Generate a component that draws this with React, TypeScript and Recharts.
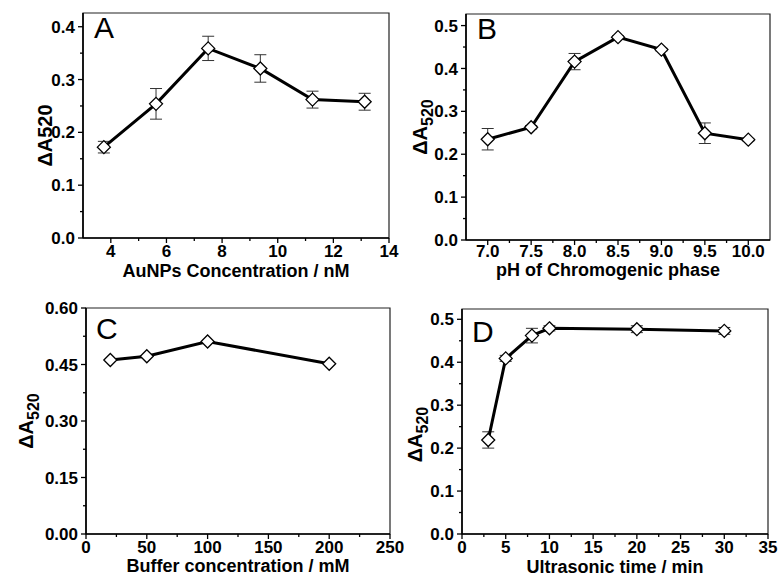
import React from 'react';
import { ComposedChart, Line, XAxis, YAxis, ErrorBar, ReferenceArea } from 'recharts';

// ---------- Panel A ----------
const aX = [3.75, 5.625, 7.5, 9.375, 11.25, 13.125];
const aY = [0.172, 0.254, 0.359, 0.321, 0.262, 0.258];
const aErr = [0.011, 0.029, 0.023, 0.026, 0.016, 0.016];
const aXMajor = [4, 6, 8, 10, 12, 14];
const aXMinor = [5, 7, 9, 11, 13];
const aYMajor = [0, 0.1, 0.2, 0.3, 0.4];
const aYMinor = [0.05, 0.15, 0.25, 0.35];

// ---------- Panel B ----------
const bX = [7.0, 7.5, 8.0, 8.5, 9.0, 9.5, 10.0];
const bY = [0.235, 0.263, 0.416, 0.473, 0.444, 0.249, 0.234];
const bErr = [0.025, 0.004, 0.019, 0.003, 0.003, 0.024, 0.003];
const bXMajor = [7.0, 7.5, 8.0, 8.5, 9.0, 9.5, 10.0];
const bXMinor = [7.25, 7.75, 8.25, 8.75, 9.25, 9.75];
const bYMajor = [0, 0.1, 0.2, 0.3, 0.4, 0.5];
const bYMinor = [0.05, 0.15, 0.25, 0.35, 0.45];

// ---------- Panel C ----------
const cX = [20, 50, 100, 200];
const cY = [0.462, 0.472, 0.511, 0.452];
const cErr = [0, 0, 0, 0];
const cXMajor = [0, 50, 100, 150, 200, 250];
const cXMinor = [25, 75, 125, 175, 225];
const cYMajor = [0, 0.15, 0.3, 0.45, 0.6];
const cYMinor = [0.075, 0.225, 0.375, 0.525];

// ---------- Panel D ----------
const dX = [3, 5, 8, 10, 20, 30];
const dY = [0.219, 0.409, 0.462, 0.479, 0.477, 0.473];
const dErr = [0.019, 0.007, 0.017, 0.006, 0.008, 0.008];
const dXMajor = [0, 5, 10, 15, 20, 25, 30, 35];
const dXMinor = [2.5, 7.5, 12.5, 17.5, 22.5, 27.5, 32.5];
const dYMajor = [0, 0.1, 0.2, 0.3, 0.4, 0.5];
const dYMinor = [0.05, 0.15, 0.25, 0.35, 0.45];

const FONT = '"Liberation Sans", Arial, Helvetica, sans-serif';

const build = (xs: number[], ys: number[], es: number[]) =>
  xs.map((x, i) => ({ x, y: ys[i], e: es[i] }));

const isIn = (arr: number[], v: number) => arr.some((m) => Math.abs(m - v) < 1e-9);

const Diamond = (props: any) => {
  const { cx, cy, index } = props;
  if (cx == null || cy == null) return <g key={`d-${index}`} />;
  const r = 6.5;
  return (
    <polygon
      key={`d-${index}`}
      points={`${cx},${cy - r} ${cx + r},${cy} ${cx},${cy + r} ${cx - r},${cy}`}
      fill="#fff"
      stroke="#000"
      strokeWidth={1.3}
    />
  );
};

type PanelCfg = {
  left: number;
  top: number;
  width: number;
  height: number;
  mTop: number;
  mRight: number;
  yAxisWidth: number;
  xAxisHeight: number;
  data: { x: number; y: number; e: number }[];
  xDomain: [number, number];
  yDomain: [number, number];
  xMajor: number[];
  xMinor: number[];
  yMajor: number[];
  yMinor: number[];
  xFmt: (v: number) => string;
  yFmt: (v: number) => string;
  xTickDy: number;
  xTitle: string;
  xTitleDx: number;
  xTitleDy: number;
  yTitleMain: string;
  yTitleSub: string;
  subscript: boolean;
  yTitleDx: number;
  yTitleDy: number;
  letter: string;
  letterX: number;
  letterY: number;
  showErr: boolean;
};

const Panel = (c: PanelCfg) => {
  const xTicks = [...c.xMajor, ...c.xMinor].sort((a, b) => a - b);
  const yTicks = [...c.yMajor, ...c.yMinor].sort((a, b) => a - b);

  const renderXTick = (p: any) => {
    const v = p.payload.value;
    const major = isIn(c.xMajor, v);
    const len = major ? 5 : 3;
    return (
      <g key={`xt-${v}`}>
        <line x1={p.x} x2={p.x} y1={p.y} y2={p.y + len} stroke="#000" strokeWidth={1.3} />
        {major && (
          <text x={p.x} y={p.y + c.xTickDy} textAnchor="middle" fontFamily={FONT} fontWeight="bold" fontSize={17} fill="#000">
            {c.xFmt(v)}
          </text>
        )}
      </g>
    );
  };

  const renderYTick = (p: any) => {
    const v = p.payload.value;
    const major = isIn(c.yMajor, v);
    const len = major ? 5 : 3;
    return (
      <g key={`yt-${v}`}>
        <line x1={p.x} x2={p.x - len} y1={p.y} y2={p.y} stroke="#000" strokeWidth={1.3} />
        {major && (
          <text x={p.x - 8} y={p.y} dy="0.36em" textAnchor="end" fontFamily={FONT} fontWeight="bold" fontSize={17} fill="#000">
            {c.yFmt(v)}
          </text>
        )}
      </g>
    );
  };

  const xLabel = (p: any) => {
    const vb = p.viewBox;
    return (
      <text x={vb.x + vb.width / 2 + c.xTitleDx} y={vb.y + c.xTitleDy} textAnchor="middle" fontFamily={FONT} fontWeight="bold" fontSize={18} fill="#000">
        {c.xTitle}
      </text>
    );
  };

  const yLabel = (p: any) => {
    const vb = p.viewBox;
    const bx = vb.x + vb.width + c.yTitleDx;
    const cy = vb.y + vb.height / 2 + c.yTitleDy;
    return (
      <text transform={`translate(${bx},${cy}) rotate(-90)`} textAnchor="middle" fontFamily={FONT} fontWeight="bold" fontSize={20} fill="#000">
        {c.yTitleMain}
        {c.subscript ? (
          <tspan fontSize={16} dy={6}>{c.yTitleSub}</tspan>
        ) : (
          <tspan>{c.yTitleSub}</tspan>
        )}
      </text>
    );
  };

  return (
    <div style={{ position: 'absolute', left: c.left, top: c.top, width: c.width, height: c.height }}>
      <ComposedChart
        width={c.width}
        height={c.height}
        data={c.data}
        margin={{ top: c.mTop, right: c.mRight, left: 0, bottom: 0 }}
      >
        <ReferenceArea
          x1={c.xDomain[0]}
          x2={c.xDomain[1]}
          y1={c.yDomain[0]}
          y2={c.yDomain[1]}
          fill="none"
          stroke="#222"
          strokeWidth={1.2}
          ifOverflow="visible"
        />
        <XAxis
          type="number"
          dataKey="x"
          domain={c.xDomain}
          ticks={xTicks}
          interval={0}
          allowDataOverflow
          tickSize={0}
          tickMargin={0}
          tickLine={false}
          tick={renderXTick}
          axisLine={{ stroke: '#000', strokeWidth: 1.6 }}
          height={c.xAxisHeight}
          label={xLabel}
        />
        <YAxis
          type="number"
          domain={c.yDomain}
          ticks={yTicks}
          interval={0}
          allowDataOverflow
          tickSize={0}
          tickMargin={0}
          tickLine={false}
          tick={renderYTick}
          axisLine={{ stroke: '#000', strokeWidth: 1.6 }}
          width={c.yAxisWidth}
          label={yLabel}
        />
        <Line
          type="linear"
          dataKey="y"
          stroke="#000"
          strokeWidth={3}
          dot={Diamond}
          activeDot={false}
          isAnimationActive={false}
        >
          {c.showErr && (
            <ErrorBar dataKey="e" direction="y" width={6} stroke="#333" strokeWidth={1} />
          )}
        </Line>
      </ComposedChart>
      <div
        style={{
          position: 'absolute',
          left: c.letterX,
          top: c.letterY,
          fontFamily: FONT,
          fontSize: 30,
          lineHeight: '30px',
          color: '#000',
        }}
      >
        {c.letter}
      </div>
    </div>
  );
};

const f1 = (v: number) => v.toFixed(1);
const f0 = (v: number) => v.toFixed(0);
const f2 = (v: number) => v.toFixed(2);

export default function App() {
  return (
    <div style={{ position: 'absolute', left: 0, top: 0, width: 781, height: 576, background: '#fff', overflow: 'hidden' }}>
      <Panel
        left={0} top={0} width={402} height={290} mTop={13} mRight={13} yAxisWidth={83} xAxisHeight={52}
        data={build(aX, aY, aErr)} xDomain={[3, 14]} yDomain={[0, 0.426]}
        xMajor={aXMajor} xMinor={aXMinor} yMajor={aYMajor} yMinor={aYMinor}
        xFmt={f0} yFmt={f1} xTickDy={19}
        xTitle="AuNPs Concentration / nM" xTitleDx={0} xTitleDy={39}
        yTitleMain="ΔA" yTitleSub="520" subscript={false} yTitleDx={-31} yTitleDy={10}
        letter="A" letterX={94} letterY={13} showErr
      />
      <Panel
        left={390} top={0} width={391} height={290} mTop={14} mRight={11} yAxisWidth={76} xAxisHeight={50}
        data={build(bX, bY, bErr)} xDomain={[6.75, 10.25]} yDomain={[0, 0.527]}
        xMajor={bXMajor} xMinor={bXMinor} yMajor={bYMajor} yMinor={bYMinor}
        xFmt={f1} yFmt={f1} xTickDy={17}
        xTitle="pH of Chromogenic phase" xTitleDx={-10} xTitleDy={36}
        yTitleMain="ΔA" yTitleSub="520" subscript yTitleDx={-39} yTitleDy={0}
        letter="B" letterX={87} letterY={14} showErr
      />
      <Panel
        left={0} top={290} width={404} height={286} mTop={18} mRight={14} yAxisWidth={86} xAxisHeight={42}
        data={build(cX, cY, cErr)} xDomain={[0, 250]} yDomain={[0, 0.6]}
        xMajor={cXMajor} xMinor={cXMinor} yMajor={cYMajor} yMinor={cYMinor}
        xFmt={f0} yFmt={f2} xTickDy={19}
        xTitle="Buffer concentration / mM" xTitleDx={0} xTitleDy={38}
        yTitleMain="ΔA" yTitleSub="520" subscript yTitleDx={-53} yTitleDy={0}
        letter="C" letterX={96} letterY={24} showErr={false}
      />
      <Panel
        left={390} top={290} width={391} height={286} mTop={19} mRight={13} yAxisWidth={72} xAxisHeight={42}
        data={build(dX, dY, dErr)} xDomain={[0, 35]} yDomain={[0, 0.524]}
        xMajor={dXMajor} xMinor={dXMinor} yMajor={dYMajor} yMinor={dYMinor}
        xFmt={f0} yFmt={f1} xTickDy={19}
        xTitle="Ultrasonic time / min" xTitleDx={0} xTitleDy={38.5}
        yTitleMain="ΔA" yTitleSub="520" subscript yTitleDx={-40} yTitleDy={13}
        letter="D" letterX={82} letterY={27} showErr
      />
    </div>
  );
}
